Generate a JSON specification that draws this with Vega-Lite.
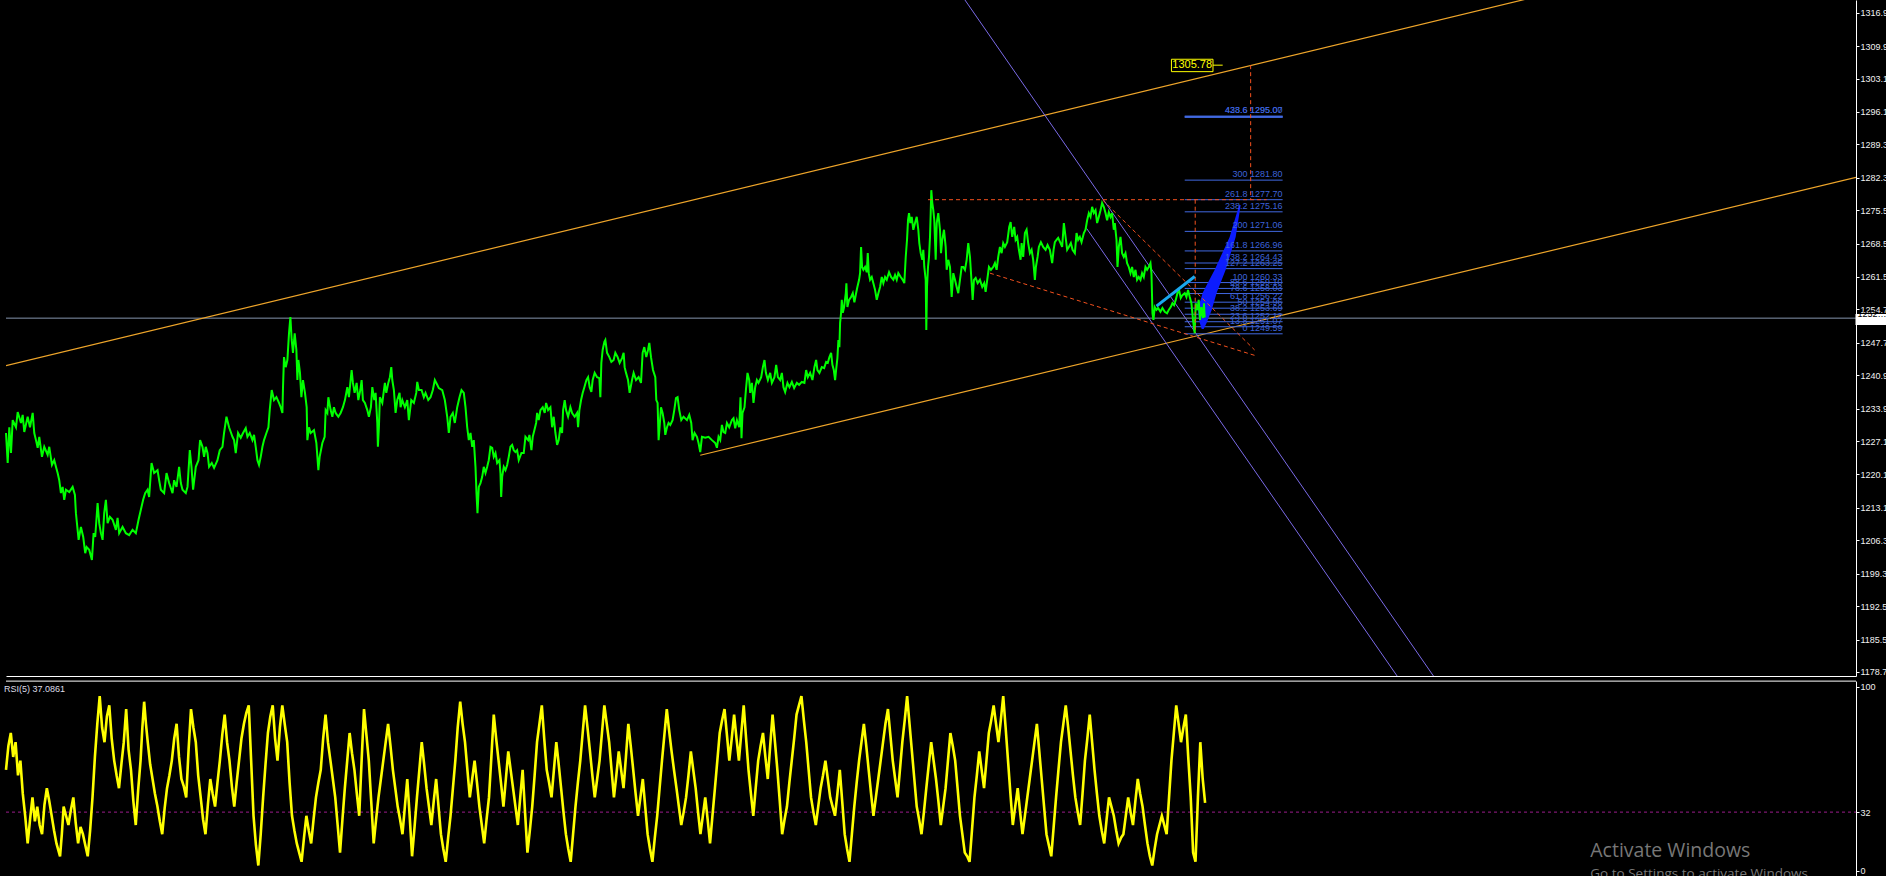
{
"$schema":"https://vega.github.io/schema/vega-lite/v6.json",
"background":"#000000",
"padding":0,
"spacing":2,
"config":{"view":{"stroke":null},"font":"Liberation Sans"},
"datasets":{
"px":[
{"t":0,"p":1228.8},{"t":1.7,"p":1222.5},{"t":3.3,"p":1230.0},{"t":5,"p":1224.6},{"t":6.7,"p":1231.5},{"t":10,"p":1230.0},{"t":11.7,"p":1233.2},{"t":15,"p":1230.9},{"t":16.7,"p":1232.6},{"t":18.3,"p":1229.0},{"t":21.7,"p":1232.2},{"t":24,"p":1230.0},{"t":26.7,"p":1233.0},{"t":28.3,"p":1228.8},{"t":30,"p":1227.3},{"t":31.7,"p":1225.7},{"t":33.3,"p":1228.0},{"t":36,"p":1223.8},{"t":38.3,"p":1225.9},{"t":41.7,"p":1224.2},{"t":43.3,"p":1225.9},{"t":46,"p":1222.1},{"t":48.3,"p":1223.1},{"t":50,"p":1221.7},{"t":51.7,"p":1220.4},{"t":53.3,"p":1218.9},{"t":55,"p":1216.2},{"t":56.7,"p":1217.5},{"t":58.3,"p":1214.8},{"t":60,"p":1216.9},{"t":63.3,"p":1216.4},{"t":66.7,"p":1217.5},{"t":69,"p":1215.8},{"t":70,"p":1212.0},{"t":71.7,"p":1208.5},{"t":72.7,"p":1206.4},{"t":75,"p":1209.1},{"t":77.3,"p":1207.0},{"t":79.3,"p":1203.6},{"t":80.7,"p":1204.9},{"t":83.3,"p":1204.3},{"t":86,"p":1202.2},{"t":87.7,"p":1207.8},{"t":89.3,"p":1207.0},{"t":91.7,"p":1214.1},{"t":93.3,"p":1209.9},{"t":95,"p":1207.8},{"t":96.7,"p":1206.4},{"t":98.3,"p":1212.0},{"t":100,"p":1214.8},{"t":101.7,"p":1209.9},{"t":104,"p":1211.2},{"t":106.7,"p":1210.6},{"t":110,"p":1208.5},{"t":111.7,"p":1211.0},{"t":113.3,"p":1207.8},{"t":116.7,"p":1209.1},{"t":120,"p":1207.8},{"t":123.3,"p":1207.4},{"t":126.7,"p":1208.5},{"t":130,"p":1207.8},{"t":132.7,"p":1210.6},{"t":135,"p":1212.7},{"t":137.3,"p":1214.8},{"t":139.3,"p":1216.2},{"t":141.7,"p":1216.9},{"t":143.3,"p":1215.4},{"t":145.7,"p":1222.5},{"t":148.3,"p":1220.4},{"t":151.7,"p":1221.0},{"t":153.3,"p":1218.9},{"t":155,"p":1216.9},{"t":158.3,"p":1216.2},{"t":160.7,"p":1220.4},{"t":163.3,"p":1218.3},{"t":166.7,"p":1216.2},{"t":168.3,"p":1218.9},{"t":170.7,"p":1217.5},{"t":173.3,"p":1221.7},{"t":175,"p":1218.3},{"t":176.7,"p":1216.9},{"t":180,"p":1216.2},{"t":181.7,"p":1217.5},{"t":184,"p":1225.2},{"t":185.7,"p":1221.7},{"t":187.3,"p":1216.9},{"t":190,"p":1221.7},{"t":192.7,"p":1223.1},{"t":194.3,"p":1227.3},{"t":196.7,"p":1225.9},{"t":198.3,"p":1223.8},{"t":200,"p":1225.9},{"t":201.7,"p":1224.6},{"t":203.3,"p":1221.7},{"t":206,"p":1222.5},{"t":208.3,"p":1221.5},{"t":211.7,"p":1223.1},{"t":214,"p":1225.2},{"t":216.7,"p":1225.9},{"t":218.3,"p":1228.8},{"t":220.7,"p":1232.2},{"t":223.3,"p":1230.0},{"t":225,"p":1229.0},{"t":226.7,"p":1228.0},{"t":228.3,"p":1227.3},{"t":230,"p":1224.6},{"t":232.3,"p":1228.8},{"t":235,"p":1227.8},{"t":237.3,"p":1228.8},{"t":240,"p":1229.8},
{"t":241.7,"p":1228.0},{"t":244,"p":1228.8},{"t":246.7,"p":1227.3},{"t":248.3,"p":1228.4},{"t":250,"p":1225.9},{"t":251.7,"p":1223.1},{"t":253.3,"p":1222.1},{"t":255,"p":1223.8},{"t":256.7,"p":1225.9},{"t":258.3,"p":1227.3},{"t":260.7,"p":1228.8},{"t":262.7,"p":1230.0},{"t":264,"p":1233.6},{"t":266,"p":1237.8},{"t":268.3,"p":1235.7},{"t":270.7,"p":1236.3},{"t":273.3,"p":1235.1},{"t":275,"p":1234.2},{"t":276.7,"p":1233.0},{"t":277.3,"p":1238.4},{"t":278.3,"p":1244.7},{"t":280,"p":1242.6},{"t":281.7,"p":1244.1},{"t":283.3,"p":1249.7},{"t":284.7,"p":1253.1},{"t":286,"p":1248.3},{"t":287.3,"p":1245.6},{"t":289,"p":1249.7},{"t":290.7,"p":1246.2},{"t":291.7,"p":1239.9},{"t":292.7,"p":1244.1},{"t":294.3,"p":1241.4},{"t":295.7,"p":1236.3},{"t":297.3,"p":1239.9},{"t":299.3,"p":1237.2},{"t":301,"p":1234.2},{"t":301.7,"p":1227.3},{"t":303.3,"p":1230.0},{"t":305,"p":1228.8},{"t":308.3,"p":1229.4},{"t":310.7,"p":1226.7},{"t":312.7,"p":1221.0},{"t":314,"p":1223.8},{"t":316.7,"p":1226.7},{"t":319,"p":1228.0},{"t":320,"p":1233.6},{"t":321.7,"p":1233.0},{"t":322.7,"p":1236.3},{"t":325,"p":1233.6},{"t":326.7,"p":1232.2},{"t":328.3,"p":1234.2},{"t":330,"p":1233.0},{"t":332.7,"p":1232.2},{"t":335,"p":1233.0},{"t":337.3,"p":1234.2},{"t":339.3,"p":1235.7},{"t":341.7,"p":1238.4},{"t":343.3,"p":1236.3},{"t":346,"p":1242.0},{"t":347.3,"p":1239.3},{"t":349,"p":1237.2},{"t":351,"p":1239.3},{"t":352.7,"p":1235.7},{"t":354.7,"p":1237.8},{"t":356,"p":1239.9},{"t":357.3,"p":1235.7},{"t":359.3,"p":1235.1},{"t":361.7,"p":1233.6},{"t":363.3,"p":1232.2},{"t":365.3,"p":1234.2},{"t":366.7,"p":1238.4},{"t":368.7,"p":1235.7},{"t":370,"p":1237.2},{"t":371.7,"p":1230.9},{"t":372.3,"p":1225.9},{"t":373.3,"p":1230.0},{"t":374.3,"p":1236.3},{"t":376.7,"p":1235.1},{"t":379.3,"p":1239.3},{"t":380.7,"p":1237.2},{"t":382.7,"p":1239.3},{"t":384.3,"p":1240.5},{"t":385.7,"p":1242.6},{"t":386.7,"p":1239.9},{"t":388.3,"p":1237.8},{"t":390,"p":1233.0},{"t":391.7,"p":1235.7},{"t":394,"p":1237.2},{"t":395,"p":1234.2},{"t":396.7,"p":1235.7},{"t":399.3,"p":1234.2},{"t":401.7,"p":1235.7},{"t":403.3,"p":1231.5},{"t":405.7,"p":1235.7},{"t":408.3,"p":1235.1},{"t":410.7,"p":1237.2},{"t":411.7,"p":1239.5},{"t":413.3,"p":1237.8},{"t":416,"p":1237.8},{"t":418.3,"p":1236.3},{"t":420,"p":1237.2},{"t":422.7,"p":1235.7},{"t":425,"p":1236.3},{"t":427.3,"p":1237.8},{"t":429.3,"p":1239.9},{"t":431.7,"p":1238.9},{"t":433.3,"p":1238.2},{"t":436.7,"p":1237.8},{"t":439.3,"p":1235.7},{"t":441.7,"p":1232.2},{"t":443.3,"p":1228.8},{"t":445,"p":1232.2},{"t":447.3,"p":1233.0},{"t":449.3,"p":1230.9},{"t":451.7,"p":1234.2},{"t":454,"p":1236.3},{"t":456,"p":1237.8},{"t":458.3,"p":1237.2},{"t":460,"p":1234.2},{"t":461.7,"p":1230.0},{"t":463.3,"p":1227.3},{"t":465,"p":1228.8},{"t":466.7,"p":1225.9},{"t":468.3,"p":1227.3},{"t":470,"p":1221.7},{"t":471,"p":1216.2},{"t":472,"p":1212.0},{"t":473.3,"p":1217.5},{"t":475,"p":1218.3},{"t":476.7,"p":1219.6},{"t":478.3,"p":1221.7},{"t":480,"p":1220.4},
{"t":481.7,"p":1221.7},{"t":483.3,"p":1223.1},{"t":485,"p":1225.9},{"t":486.7,"p":1225.7},{"t":488.3,"p":1223.8},{"t":490,"p":1224.6},{"t":491.7,"p":1222.5},{"t":494,"p":1223.1},{"t":495,"p":1220.4},{"t":495.7,"p":1215.4},{"t":496.7,"p":1219.6},{"t":498.3,"p":1221.7},{"t":500,"p":1221.0},{"t":501.7,"p":1222.1},{"t":503.3,"p":1223.8},{"t":505,"p":1225.9},{"t":506.7,"p":1226.3},{"t":508.3,"p":1225.2},{"t":510,"p":1224.8},{"t":511.7,"p":1225.2},{"t":513.3,"p":1223.1},{"t":516,"p":1224.6},{"t":518.3,"p":1224.6},{"t":520,"p":1228.0},{"t":522.7,"p":1227.3},{"t":524,"p":1228.4},{"t":526,"p":1225.2},{"t":527.3,"p":1228.0},{"t":529,"p":1229.4},{"t":530.7,"p":1230.9},{"t":531.7,"p":1233.0},{"t":533.3,"p":1231.5},{"t":535,"p":1233.6},{"t":537.3,"p":1234.2},{"t":539.3,"p":1233.0},{"t":540.7,"p":1235.1},{"t":542.7,"p":1233.6},{"t":545,"p":1234.2},{"t":546.7,"p":1230.0},{"t":548.3,"p":1232.2},{"t":550,"p":1228.8},{"t":551.7,"p":1226.3},{"t":553.3,"p":1227.3},{"t":555,"p":1230.0},{"t":556.7,"p":1228.8},{"t":557.7,"p":1233.6},{"t":559.3,"p":1235.7},{"t":560.7,"p":1233.6},{"t":562.7,"p":1232.2},{"t":565,"p":1234.2},{"t":566.7,"p":1233.0},{"t":569.3,"p":1232.2},{"t":571.7,"p":1233.0},{"t":572.7,"p":1230.0},{"t":574,"p":1233.6},{"t":575.7,"p":1235.7},{"t":577.3,"p":1237.2},{"t":579,"p":1238.4},{"t":581,"p":1239.9},{"t":582.7,"p":1240.5},{"t":584.3,"p":1238.4},{"t":586,"p":1237.4},{"t":587.3,"p":1239.9},{"t":589.3,"p":1241.4},{"t":591.7,"p":1240.5},{"t":594,"p":1240.3},{"t":595,"p":1236.3},{"t":596,"p":1243.5},{"t":597.3,"p":1246.2},{"t":599,"p":1247.9},{"t":600,"p":1248.3},{"t":601.7,"p":1245.6},{"t":604,"p":1244.7},{"t":606,"p":1243.7},{"t":608.3,"p":1244.1},{"t":610,"p":1245.6},{"t":612.3,"p":1244.7},{"t":614.3,"p":1243.5},{"t":616.7,"p":1244.5},{"t":618.3,"p":1245.6},{"t":619.3,"p":1242.6},{"t":620.7,"p":1241.4},{"t":622.7,"p":1239.9},{"t":624.3,"p":1237.2},{"t":626.7,"p":1239.9},{"t":628.3,"p":1241.4},{"t":630.7,"p":1239.9},{"t":633.3,"p":1240.5},{"t":635.7,"p":1239.3},{"t":637.3,"p":1245.6},{"t":639,"p":1246.8},{"t":641,"p":1244.7},{"t":642.7,"p":1246.2},{"t":644,"p":1247.7},{"t":645.7,"p":1244.7},{"t":647.7,"p":1242.0},{"t":650,"p":1240.5},{"t":651,"p":1235.7},{"t":652.3,"p":1235.1},{"t":653.3,"p":1227.3},{"t":654.3,"p":1230.0},{"t":655.7,"p":1234.2},{"t":657.3,"p":1233.0},{"t":659,"p":1230.9},{"t":660,"p":1228.4},{"t":661.7,"p":1230.0},{"t":663.3,"p":1230.9},{"t":665,"p":1230.5},{"t":667.3,"p":1231.5},{"t":669,"p":1233.6},{"t":670.7,"p":1236.1},{"t":672.3,"p":1236.3},{"t":674,"p":1233.6},{"t":676,"p":1231.5},{"t":678.3,"p":1232.2},{"t":681.7,"p":1231.5},{"t":684,"p":1232.6},{"t":686,"p":1230.9},{"t":687.3,"p":1227.3},{"t":689.3,"p":1228.8},{"t":691.7,"p":1228.0},{"t":693.3,"p":1226.7},{"t":695,"p":1224.8},{"t":696.7,"p":1228.0},{"t":700,"p":1227.8},{"t":703.3,"p":1228.0},{"t":706.7,"p":1227.3},{"t":710,"p":1226.7},{"t":711.7,"p":1225.7},{"t":713.3,"p":1228.0},{"t":715,"p":1227.3},{"t":716.7,"p":1230.5},{"t":718.3,"p":1229.0},{"t":720,"p":1228.8},
{"t":721.7,"p":1230.9},{"t":724,"p":1230.0},{"t":726.7,"p":1231.5},{"t":728.3,"p":1231.9},{"t":730,"p":1229.8},{"t":731.7,"p":1231.5},{"t":734,"p":1230.0},{"t":735.3,"p":1236.3},{"t":736.3,"p":1227.7},{"t":737.3,"p":1233.0},{"t":739.3,"p":1234.2},{"t":740.7,"p":1237.8},{"t":742.3,"p":1241.4},{"t":744,"p":1239.9},{"t":745,"p":1237.2},{"t":746.7,"p":1239.3},{"t":748.3,"p":1235.1},{"t":750,"p":1238.4},{"t":751.7,"p":1239.9},{"t":753.3,"p":1239.3},{"t":756,"p":1240.5},{"t":757.7,"p":1242.6},{"t":759.3,"p":1244.1},{"t":760.7,"p":1241.4},{"t":762.7,"p":1239.9},{"t":765,"p":1241.4},{"t":766.7,"p":1239.3},{"t":769.3,"p":1240.5},{"t":771,"p":1243.1},{"t":772.7,"p":1240.5},{"t":775,"p":1239.9},{"t":776.7,"p":1241.4},{"t":778.3,"p":1238.4},{"t":780,"p":1237.4},{"t":782.3,"p":1239.3},{"t":784.3,"p":1238.4},{"t":786.7,"p":1239.5},{"t":789,"p":1238.2},{"t":791.7,"p":1239.3},{"t":794,"p":1238.9},{"t":796.7,"p":1239.5},{"t":799.3,"p":1239.3},{"t":801,"p":1242.0},{"t":802.7,"p":1240.5},{"t":805,"p":1241.4},{"t":807.3,"p":1239.9},{"t":809.3,"p":1242.6},{"t":811,"p":1244.1},{"t":812.3,"p":1242.0},{"t":814.3,"p":1241.4},{"t":816.7,"p":1242.6},{"t":819,"p":1242.4},{"t":821,"p":1243.7},{"t":822.7,"p":1243.5},{"t":824.3,"p":1244.7},{"t":826,"p":1245.6},{"t":827.3,"p":1243.1},{"t":828.7,"p":1242.0},{"t":830,"p":1239.9},{"t":831,"p":1242.0},{"t":832.3,"p":1244.5},{"t":833.3,"p":1248.3},{"t":834.3,"p":1246.8},{"t":835,"p":1251.9},{"t":836,"p":1254.0},{"t":836.7,"p":1256.7},{"t":837.7,"p":1254.0},{"t":839,"p":1255.2},{"t":840.7,"p":1258.1},{"t":841.3,"p":1260.2},{"t":842.3,"p":1255.2},{"t":844,"p":1256.7},{"t":846,"p":1257.3},{"t":847.7,"p":1258.1},{"t":849.3,"p":1256.2},{"t":851,"p":1258.1},{"t":852.3,"p":1259.4},{"t":854,"p":1260.9},{"t":855,"p":1262.3},{"t":856,"p":1267.8},{"t":857,"p":1263.6},{"t":858.3,"p":1263.0},{"t":860,"p":1263.6},{"t":861.7,"p":1262.5},{"t":862.7,"p":1266.5},{"t":863.7,"p":1262.3},{"t":865,"p":1260.9},{"t":866.7,"p":1261.5},{"t":868.3,"p":1260.2},{"t":870,"p":1258.8},{"t":871.7,"p":1256.7},{"t":873.3,"p":1258.1},{"t":875,"p":1259.4},{"t":876.7,"p":1261.5},{"t":878.3,"p":1260.2},{"t":880,"p":1261.5},{"t":881.7,"p":1260.9},{"t":884,"p":1262.5},{"t":886,"p":1261.5},{"t":888.3,"p":1260.9},{"t":890,"p":1261.9},{"t":891.7,"p":1260.9},{"t":893.3,"p":1262.3},{"t":895.7,"p":1261.5},{"t":897.7,"p":1260.9},{"t":899.3,"p":1260.2},{"t":900.7,"p":1265.7},{"t":902,"p":1269.3},{"t":903,"p":1273.4},{"t":904,"p":1274.9},{"t":905.3,"p":1272.8},{"t":906.7,"p":1274.1},{"t":908.3,"p":1271.4},{"t":910,"p":1272.8},{"t":911.7,"p":1274.1},{"t":913.3,"p":1271.4},{"t":914.3,"p":1268.6},{"t":915.7,"p":1266.5},{"t":917.3,"p":1265.1},{"t":918.3,"p":1267.2},{"t":919.3,"p":1263.6},{"t":920.7,"p":1260.9},{"t":921.3,"p":1250.4},{"t":922,"p":1259.4},{"t":923,"p":1263.6},{"t":924,"p":1265.7},{"t":925,"p":1269.9},{"t":925.7,"p":1274.9},{"t":926.3,"p":1279.7},{"t":927.3,"p":1277.0},{"t":928.3,"p":1275.5},{"t":929.3,"p":1273.4},{"t":930.7,"p":1265.1},{"t":931.7,"p":1272.8},{"t":933.3,"p":1274.9},{"t":935,"p":1271.4},{"t":936,"p":1266.5},{"t":937.3,"p":1269.3},{"t":939,"p":1271.4},{"t":940.7,"p":1267.8},{"t":941.7,"p":1263.0},{"t":943.3,"p":1265.1},{"t":945,"p":1263.6},{"t":946.7,"p":1257.3},{"t":948.3,"p":1262.3},{"t":950,"p":1260.9},{"t":951.7,"p":1259.4},{"t":953.3,"p":1258.1},{"t":955,"p":1260.9},{"t":956.7,"p":1263.6},{"t":958.3,"p":1263.6},{"t":960,"p":1263.0},
{"t":961.7,"p":1265.1},{"t":963.3,"p":1268.6},{"t":965,"p":1265.7},{"t":966.7,"p":1260.2},{"t":967.7,"p":1256.7},{"t":969,"p":1260.9},{"t":970.7,"p":1261.3},{"t":972.7,"p":1260.2},{"t":975,"p":1260.9},{"t":977.3,"p":1259.4},{"t":979.3,"p":1260.2},{"t":980.7,"p":1258.4},{"t":982.3,"p":1260.9},{"t":984,"p":1263.6},{"t":986,"p":1263.0},{"t":988.3,"p":1263.6},{"t":990,"p":1264.4},{"t":991.7,"p":1263.0},{"t":993.3,"p":1265.7},{"t":995,"p":1267.8},{"t":996.7,"p":1266.5},{"t":998.3,"p":1268.6},{"t":1000,"p":1267.8},{"t":1002.3,"p":1268.8},{"t":1004.3,"p":1272.0},{"t":1005.7,"p":1273.0},{"t":1007.3,"p":1269.9},{"t":1009.3,"p":1272.0},{"t":1010.7,"p":1269.3},{"t":1012.3,"p":1269.9},{"t":1014,"p":1267.2},{"t":1015.7,"p":1265.1},{"t":1016.7,"p":1268.6},{"t":1018.3,"p":1265.7},{"t":1020,"p":1270.7},{"t":1021.7,"p":1271.4},{"t":1023.3,"p":1268.6},{"t":1025,"p":1266.5},{"t":1026.7,"p":1267.2},{"t":1028.3,"p":1265.1},{"t":1030,"p":1260.9},{"t":1031,"p":1263.6},{"t":1032.7,"p":1265.7},{"t":1034,"p":1267.8},{"t":1036,"p":1268.8},{"t":1038.3,"p":1267.8},{"t":1040.7,"p":1267.2},{"t":1042.7,"p":1268.2},{"t":1045,"p":1267.2},{"t":1047.3,"p":1264.4},{"t":1048.7,"p":1267.2},{"t":1050,"p":1268.8},{"t":1051.7,"p":1269.3},{"t":1053.3,"p":1269.7},{"t":1055.7,"p":1268.6},{"t":1057.3,"p":1267.8},{"t":1059,"p":1272.8},{"t":1060.7,"p":1269.9},{"t":1062.3,"p":1267.2},{"t":1064,"p":1267.8},{"t":1066,"p":1268.6},{"t":1067.7,"p":1267.2},{"t":1070,"p":1266.5},{"t":1071.7,"p":1270.7},{"t":1073.3,"p":1269.3},{"t":1075,"p":1269.9},{"t":1076.7,"p":1268.8},{"t":1079,"p":1270.7},{"t":1080.7,"p":1271.4},{"t":1082.3,"p":1273.4},{"t":1084,"p":1274.9},{"t":1085.7,"p":1274.1},{"t":1087.3,"p":1276.2},{"t":1089,"p":1274.9},{"t":1090.7,"p":1275.5},{"t":1092.3,"p":1272.8},{"t":1094,"p":1274.1},{"t":1095.7,"p":1275.5},{"t":1097.3,"p":1277.0},{"t":1099,"p":1276.2},{"t":1100.7,"p":1274.9},{"t":1102.3,"p":1273.4},{"t":1104,"p":1275.1},{"t":1105.7,"p":1274.1},{"t":1107.3,"p":1274.9},{"t":1109,"p":1271.4},{"t":1110,"p":1272.8},{"t":1111.7,"p":1269.3},{"t":1112.7,"p":1263.6},{"t":1114,"p":1267.8},{"t":1115.7,"p":1269.9},{"t":1117.3,"p":1266.5},{"t":1119,"p":1265.7},{"t":1120.7,"p":1266.5},{"t":1122.3,"p":1264.4},{"t":1124,"p":1263.6},{"t":1125.7,"p":1262.3},{"t":1127.3,"p":1263.6},{"t":1129,"p":1261.5},{"t":1130.7,"p":1263.0},{"t":1132.3,"p":1260.9},{"t":1134,"p":1261.5},{"t":1135.7,"p":1260.9},{"t":1137.3,"p":1262.3},{"t":1139,"p":1261.5},{"t":1140.7,"p":1263.6},{"t":1142.3,"p":1263.0},{"t":1144,"p":1263.6},{"t":1145.7,"p":1264.4},{"t":1146.7,"p":1262.3},{"t":1147.7,"p":1253.9},{"t":1148.7,"p":1252.5},{"t":1150,"p":1255.2},{"t":1151.7,"p":1254.6},{"t":1153.3,"p":1255.0},{"t":1155.7,"p":1254.2},{"t":1157.7,"p":1255.0},{"t":1160,"p":1254.2},{"t":1162.3,"p":1253.9},{"t":1164,"p":1254.6},{"t":1166,"p":1255.2},{"t":1167.7,"p":1256.0},{"t":1169.3,"p":1255.6},{"t":1171,"p":1256.7},{"t":1172.7,"p":1258.1},{"t":1174.3,"p":1258.8},{"t":1176,"p":1257.1},{"t":1177.7,"p":1257.7},{"t":1180,"p":1258.1},{"t":1181.7,"p":1257.3},{"t":1183.3,"p":1258.8},{"t":1185,"p":1257.3},{"t":1186.7,"p":1256.0},{"t":1188.3,"p":1252.5},{"t":1190,"p":1249.7},{"t":1191,"p":1256.0},{"t":1192.7,"p":1254.6},{"t":1194,"p":1256.7},{"t":1195.3,"p":1252.5},{"t":1196.7,"p":1255.2},{"t":1198.3,"p":1252.9},{"t":1199.3,"p":1256.0},{"t":1200,"p":1253.0}
],
"rsi":[
{"t":0,"r":55},{"t":2.4,"r":68},{"t":4.8,"r":75},{"t":7.2,"r":62},{"t":9.6,"r":70},{"t":12.0,"r":52},{"t":14.4,"r":60},{"t":16.8,"r":42},{"t":19.2,"r":30},{"t":21.7,"r":15},{"t":24.1,"r":28},{"t":26.5,"r":40},{"t":28.9,"r":27},{"t":31.3,"r":35},{"t":33.7,"r":25},{"t":36.1,"r":20},{"t":38.5,"r":36},{"t":40.9,"r":45},{"t":43.3,"r":38},{"t":45.7,"r":30},{"t":48.1,"r":22},{"t":50.5,"r":15},{"t":54.1,"r":8},{"t":55.9,"r":20},{"t":57.7,"r":35},{"t":60.1,"r":30},{"t":62.5,"r":25},{"t":64.9,"r":33},{"t":67.4,"r":40},{"t":69.8,"r":26},{"t":72.2,"r":15},{"t":74.6,"r":24},{"t":77.0,"r":20},{"t":79.4,"r":14},{"t":81.8,"r":8},{"t":84.2,"r":22},{"t":86.6,"r":40},{"t":89.0,"r":62},{"t":91.4,"r":80},{"t":93.8,"r":95},{"t":96.2,"r":78},{"t":98.6,"r":70},{"t":101.0,"r":84},{"t":103.4,"r":90},{"t":105.8,"r":72},{"t":108.3,"r":60},{"t":110.7,"r":52},{"t":113.1,"r":45},{"t":115.5,"r":58},{"t":117.9,"r":70},{"t":120.3,"r":88},{"t":122.7,"r":66},{"t":125.1,"r":55},{"t":127.5,"r":38},{"t":129.9,"r":25},{"t":132.3,"r":44},{"t":134.7,"r":60},{"t":136.5,"r":78},{"t":138.3,"r":92},{"t":140.1,"r":80},{"t":141.9,"r":70},{"t":144.3,"r":58},{"t":146.7,"r":50},{"t":149.1,"r":42},{"t":151.6,"r":35},{"t":154.0,"r":27},{"t":156.4,"r":20},{"t":158.8,"r":34},{"t":161.2,"r":45},{"t":163.6,"r":52},{"t":166.0,"r":60},{"t":168.4,"r":72},{"t":170.8,"r":80},{"t":173.2,"r":62},{"t":175.6,"r":50},{"t":178.0,"r":46},{"t":180.4,"r":40},{"t":182.8,"r":66},{"t":185.2,"r":88},{"t":187.6,"r":78},{"t":190.0,"r":70},{"t":192.4,"r":52},{"t":194.9,"r":40},{"t":197.3,"r":28},{"t":199.7,"r":20},{"t":202.1,"r":36},{"t":204.5,"r":50},{"t":206.9,"r":42},{"t":209.3,"r":35},{"t":211.7,"r":48},{"t":214.1,"r":60},{"t":216.5,"r":74},{"t":218.9,"r":85},{"t":221.3,"r":70},{"t":223.7,"r":60},{"t":226.1,"r":46},{"t":228.5,"r":35},{"t":230.9,"r":48},{"t":233.3,"r":60},{"t":235.7,"r":72},{"t":238.2,"r":80},{"t":240.6,"r":86},{"t":243.0,"r":90},{"t":245.4,"r":60},{"t":247.8,"r":30},{"t":250.2,"r":14},{"t":252.6,"r":3},{"t":255.0,"r":20},{"t":257.4,"r":40},{"t":259.8,"r":58},{"t":262.2,"r":75},{"t":264.6,"r":84},{"t":267.0,"r":90},{"t":269.4,"r":72},{"t":271.8,"r":60},{"t":274.2,"r":78},{"t":276.6,"r":90},{"t":279.0,"r":80},{"t":281.5,"r":70},{"t":283.9,"r":48},{"t":286.3,"r":30},{"t":288.7,"r":22},{"t":291.1,"r":15},{"t":293.5,"r":10},{"t":295.9,"r":5},{"t":298.3,"r":18},{"t":300.7,"r":30},{"t":303.1,"r":22},{"t":305.5,"r":15},{"t":307.9,"r":28},{"t":310.3,"r":40},{"t":312.7,"r":48},{"t":315.1,"r":55},{"t":317.5,"r":72},{"t":319.9,"r":85},{"t":322.3,"r":70},{"t":324.8,"r":60},{"t":327.2,"r":50},{"t":329.6,"r":40},{"t":332.0,"r":25},{"t":334.4,"r":10},{"t":336.8,"r":28},{"t":339.2,"r":45},{"t":341.6,"r":60},{"t":344.0,"r":75},{"t":346.4,"r":64},{"t":348.8,"r":55},{"t":351.2,"r":42},{"t":353.6,"r":30},{"t":356.0,"r":60},{"t":358.4,"r":88},{"t":360.8,"r":74},{"t":363.2,"r":60},{"t":365.6,"r":38},{"t":368.1,"r":15},{"t":370.5,"r":28},{"t":372.9,"r":40},{"t":375.3,"r":50},{"t":377.7,"r":60},{"t":380.1,"r":70},{"t":382.5,"r":80},{"t":384.9,"r":68},{"t":387.3,"r":55},{"t":389.7,"r":45},{"t":392.1,"r":35},{"t":394.5,"r":28},{"t":396.9,"r":20},{"t":399.3,"r":35},{"t":401.7,"r":50},{"t":404.1,"r":30},{"t":406.5,"r":8},{"t":409.0,"r":24},{"t":411.4,"r":40},{"t":413.8,"r":55},{"t":416.2,"r":70},{"t":418.6,"r":58},{"t":421.0,"r":45},{"t":423.4,"r":35},{"t":425.8,"r":25},{"t":428.2,"r":38},{"t":430.6,"r":50},{"t":433.0,"r":35},{"t":435.4,"r":20},{"t":437.8,"r":12},{"t":440.2,"r":5},{"t":442.6,"r":18},{"t":445.0,"r":30},{"t":447.4,"r":45},{"t":449.8,"r":60},{"t":452.2,"r":78},{"t":454.7,"r":92},{"t":457.1,"r":80},{"t":459.5,"r":70},{"t":461.9,"r":55},{"t":464.3,"r":40},{"t":466.7,"r":50},{"t":469.1,"r":60},{"t":471.5,"r":48},{"t":473.9,"r":35},{"t":476.3,"r":25},{"t":478.7,"r":15},{"t":481.1,"r":28},{"t":483.5,"r":40},{"t":485.9,"r":62},{"t":488.3,"r":85},{"t":490.7,"r":72},{"t":493.1,"r":60},{"t":495.5,"r":48},{"t":498.0,"r":35},{"t":500.4,"r":50},{"t":502.8,"r":65},{"t":505.2,"r":55},{"t":507.6,"r":45},{"t":510.0,"r":35},{"t":512.4,"r":25},{"t":514.8,"r":40},{"t":517.2,"r":55},{"t":519.6,"r":32},{"t":522.0,"r":10},{"t":524.4,"r":22},{"t":526.8,"r":35},{"t":529.2,"r":52},{"t":531.6,"r":70},{"t":534.0,"r":80},{"t":536.4,"r":90},{"t":538.8,"r":72},{"t":541.3,"r":55},{"t":543.7,"r":48},{"t":546.1,"r":40},{"t":548.5,"r":55},{"t":550.9,"r":70},{"t":553.3,"r":58},{"t":555.7,"r":45},{"t":558.1,"r":32},{"t":560.5,"r":20},{"t":562.9,"r":12},{"t":565.3,"r":5},{"t":567.7,"r":20},{"t":570.1,"r":35},{"t":572.5,"r":48},{"t":574.9,"r":60},{"t":577.3,"r":75},{"t":579.7,"r":90},{"t":582.1,"r":78},{"t":584.6,"r":65},{"t":587.0,"r":52},{"t":589.4,"r":40},{"t":591.8,"r":50},{"t":594.2,"r":60},{"t":596.6,"r":75},{"t":599.0,"r":90},{"t":601.4,"r":80},{"t":603.8,"r":70},{"t":606.2,"r":55},{"t":608.6,"r":40},{"t":611.0,"r":52},{"t":613.4,"r":65},{"t":615.8,"r":55},{"t":618.2,"r":45},{"t":620.6,"r":62},{"t":623.0,"r":80},{"t":625.4,"r":68},{"t":627.9,"r":55},{"t":630.3,"r":42},{"t":632.7,"r":30},{"t":635.1,"r":40},{"t":637.5,"r":50},{"t":639.9,"r":35},{"t":642.3,"r":20},{"t":644.7,"r":12},{"t":647.1,"r":5},{"t":649.5,"r":18},{"t":651.9,"r":30},{"t":654.3,"r":45},{"t":656.7,"r":60},{"t":659.1,"r":74},{"t":661.5,"r":88},{"t":663.9,"r":76},{"t":666.3,"r":65},{"t":668.7,"r":55},{"t":671.2,"r":45},{"t":673.6,"r":35},{"t":676.0,"r":25},{"t":678.4,"r":32},{"t":680.8,"r":40},{"t":683.2,"r":52},{"t":685.6,"r":65},{"t":688.0,"r":55},{"t":690.4,"r":45},{"t":692.8,"r":32},{"t":695.2,"r":20},{"t":697.6,"r":30},{"t":700.0,"r":40},{"t":702.4,"r":28},{"t":704.8,"r":15},{"t":707.2,"r":30},{"t":709.7,"r":45},{"t":712.1,"r":60},{"t":714.5,"r":75},{"t":716.9,"r":82},{"t":719.3,"r":88},{"t":721.7,"r":74},{"t":724.1,"r":60},{"t":726.5,"r":72},{"t":728.9,"r":85},{"t":731.3,"r":72},{"t":733.7,"r":60},{"t":736.1,"r":75},{"t":738.5,"r":90},{"t":740.9,"r":72},{"t":743.3,"r":55},{"t":745.7,"r":42},{"t":748.1,"r":30},{"t":750.5,"r":45},{"t":753.0,"r":60},{"t":755.4,"r":68},{"t":757.8,"r":75},{"t":760.2,"r":62},{"t":762.6,"r":50},{"t":765.0,"r":68},{"t":767.4,"r":85},{"t":769.8,"r":70},{"t":772.2,"r":55},{"t":774.6,"r":38},{"t":777.0,"r":20},{"t":779.4,"r":28},{"t":781.8,"r":35},{"t":784.2,"r":48},{"t":786.6,"r":60},{"t":789.0,"r":72},{"t":791.4,"r":85},{"t":793.8,"r":90},{"t":796.3,"r":95},{"t":798.7,"r":82},{"t":801.1,"r":70},{"t":803.5,"r":55},{"t":805.9,"r":40},{"t":808.3,"r":32},{"t":810.7,"r":25},{"t":813.1,"r":35},{"t":815.5,"r":45},{"t":817.9,"r":52},{"t":820.3,"r":60},{"t":822.7,"r":50},{"t":825.1,"r":40},{"t":827.5,"r":35},{"t":829.9,"r":30},{"t":832.3,"r":42},{"t":834.7,"r":55},{"t":837.1,"r":38},{"t":839.6,"r":20},{"t":842.0,"r":12},{"t":844.4,"r":5},{"t":846.8,"r":20},{"t":849.2,"r":35},{"t":851.6,"r":48},{"t":854.0,"r":60},{"t":856.4,"r":70},{"t":858.8,"r":80},{"t":861.2,"r":68},{"t":863.6,"r":55},{"t":866.0,"r":42},{"t":868.4,"r":30},{"t":870.8,"r":40},{"t":873.2,"r":50},{"t":875.6,"r":60},{"t":878.0,"r":70},{"t":880.4,"r":80},{"t":882.9,"r":88},{"t":885.3,"r":74},{"t":887.7,"r":60},{"t":890.1,"r":50},{"t":892.5,"r":40},{"t":894.9,"r":55},{"t":897.3,"r":70},{"t":899.7,"r":82},{"t":902.1,"r":95},{"t":904.5,"r":80},{"t":906.9,"r":65},{"t":909.3,"r":50},{"t":911.7,"r":35},{"t":914.1,"r":28},{"t":916.5,"r":20},{"t":918.9,"r":32},{"t":921.3,"r":45},{"t":923.8,"r":58},{"t":926.2,"r":70},{"t":928.6,"r":60},{"t":931.0,"r":50},{"t":933.4,"r":38},{"t":935.8,"r":25},{"t":938.2,"r":35},{"t":940.6,"r":45},{"t":943.0,"r":60},{"t":945.4,"r":75},{"t":947.8,"r":68},{"t":950.2,"r":60},{"t":952.6,"r":45},{"t":955.0,"r":30},{"t":957.4,"r":20},{"t":959.8,"r":10},{"t":962.2,"r":8},{"t":964.6,"r":5},{"t":967.0,"r":22},{"t":969.5,"r":40},{"t":971.9,"r":52},{"t":974.3,"r":65},{"t":976.7,"r":55},{"t":979.1,"r":45},{"t":981.5,"r":60},{"t":983.9,"r":75},{"t":986.3,"r":82},{"t":988.7,"r":90},{"t":991.1,"r":80},{"t":993.5,"r":70},{"t":995.9,"r":82},{"t":998.3,"r":95},{"t":1000.7,"r":78},{"t":1003.1,"r":60},{"t":1005.5,"r":42},{"t":1007.9,"r":25},{"t":1010.3,"r":35},{"t":1012.8,"r":45},{"t":1015.2,"r":32},{"t":1017.6,"r":20},{"t":1020.0,"r":30},{"t":1022.4,"r":40},{"t":1024.8,"r":50},{"t":1027.2,"r":60},{"t":1029.6,"r":70},{"t":1032.0,"r":80},{"t":1034.4,"r":65},{"t":1036.8,"r":50},{"t":1039.2,"r":35},{"t":1041.6,"r":20},{"t":1044.0,"r":14},{"t":1046.4,"r":8},{"t":1048.8,"r":24},{"t":1051.2,"r":40},{"t":1053.6,"r":55},{"t":1056.1,"r":70},{"t":1058.5,"r":80},{"t":1060.9,"r":90},{"t":1063.3,"r":78},{"t":1065.7,"r":65},{"t":1068.1,"r":52},{"t":1070.5,"r":40},{"t":1072.9,"r":32},{"t":1075.3,"r":25},{"t":1077.7,"r":42},{"t":1080.1,"r":60},{"t":1082.5,"r":72},{"t":1084.9,"r":85},{"t":1087.3,"r":70},{"t":1089.7,"r":55},{"t":1092.1,"r":42},{"t":1094.5,"r":30},{"t":1096.9,"r":22},{"t":1099.4,"r":15},{"t":1101.8,"r":28},{"t":1104.2,"r":40},{"t":1106.6,"r":35},{"t":1109.0,"r":30},{"t":1111.4,"r":22},{"t":1113.8,"r":15},{"t":1116.2,"r":18},{"t":1118.6,"r":20},{"t":1121.0,"r":30},{"t":1123.4,"r":40},{"t":1125.8,"r":32},{"t":1128.2,"r":25},{"t":1130.6,"r":38},{"t":1133.0,"r":50},{"t":1135.4,"r":42},{"t":1137.8,"r":35},{"t":1140.2,"r":25},{"t":1142.7,"r":15},{"t":1145.1,"r":8},{"t":1147.5,"r":3},{"t":1149.9,"r":12},{"t":1152.3,"r":20},{"t":1154.7,"r":25},{"t":1157.1,"r":30},{"t":1159.5,"r":25},{"t":1161.9,"r":20},{"t":1164.3,"r":40},{"t":1166.7,"r":60},{"t":1169.1,"r":75},{"t":1171.5,"r":90},{"t":1173.9,"r":80},{"t":1176.3,"r":70},{"t":1178.7,"r":78},{"t":1181.1,"r":85},{"t":1183.5,"r":62},{"t":1186.0,"r":40},{"t":1188.4,"r":10},{"t":1190.8,"r":5},{"t":1193.2,"r":40},{"t":1195.6,"r":70},{"t":1198.0,"r":50},{"t":1200.4,"r":37}
],
"fib":[
{"p":1281.80,"t":1180,"t2":1278,"l":"300 1281.80"},
{"p":1277.70,"t":1180,"t2":1278,"l":"261.8 1277.70"},
{"p":1275.16,"t":1180,"t2":1278,"l":"238.2 1275.16"},
{"p":1271.06,"t":1180,"t2":1278,"l":"200 1271.06"},
{"p":1266.96,"t":1180,"t2":1278,"l":"161.8 1266.96"},
{"p":1264.43,"t":1180,"t2":1278,"l":"138.2 1264.43"},
{"p":1263.25,"t":1180,"t2":1278,"l":"127.2 1263.25"},
{"p":1260.33,"t":1180,"t2":1278,"l":"100 1260.33"},
{"p":1259.10,"t":1180,"t2":1278,"l":"88.6 1259.10"},
{"p":1258.03,"t":1180,"t2":1278,"l":"78.6 1258.03"},
{"p":1256.22,"t":1180,"t2":1278,"l":"61.8 1256.22"},
{"p":1254.96,"t":1180,"t2":1278,"l":"50 1254.96"},
{"p":1253.69,"t":1180,"t2":1278,"l":"38.2 1253.69"},
{"p":1252.12,"t":1180,"t2":1278,"l":"23.6 1252.12"},
{"p":1251.07,"t":1180,"t2":1278,"l":"13.8 1251.07"},
{"p":1249.59,"t":1180,"t2":1278,"l":"0 1249.59"}
],
"fibtop":[
{"p":1295.07,"t":1180,"t2":1278,"l":"423.6 1295.07"},
{"p":1295.07,"t":1180,"t2":1278,"l":"438.6 1295.00"}
],
"chanUp":[{"t":0,"p":1242.93},{"t":1852,"p":1336.42}],
"chanLo":[{"t":695,"p":1224.13},{"t":1852,"p":1282.4}],
"purA":[{"t":960,"p":1319.56},{"t":1429,"p":1177.86}],
"purB":[{"t":1081.7,"p":1271.7},{"t":1392.6,"p":1177.86}],
"last":[{"t":0,"p":1252.87},{"t":1852,"p":1252.87}],
"red":[
{"id":"h","t":923,"p":1277.7},{"id":"h","t":1262,"p":1277.7},
{"id":"v1","t":1246,"p":1305.9},{"id":"v1","t":1246.01,"p":1277.7},
{"id":"v2","t":1190.5,"p":1277.7},{"id":"v2","t":1190.51,"p":1249.7},
{"id":"d1","t":1098,"p":1277.6},{"id":"d1","t":1250,"p":1246.2},
{"id":"d2","t":985,"p":1262.3},{"id":"d2","t":1251,"p":1245.0}
],
"cyan":[{"t":1151.7,"p":1255.4},{"t":1190,"p":1261.6}],
"fan":[
{"p":1250.6,"a":1197,"b":1199},
{"p":1251.9,"a":1195,"b":1202},
{"p":1254.6,"a":1193,"b":1207},
{"p":1258.2,"a":1198,"b":1212},
{"p":1263.0,"a":1210,"b":1221},
{"p":1269.9,"a":1225,"b":1231},
{"p":1276.6,"a":1234.5,"b":1236}
],
"ybox":[{"t":1166.7,"t2":1208.3,"p":1307.14,"p2":1304.54,"s":"1305.78","c":1187.5,"m":1305.84}],
"ytick":[{"t":1208.3,"p":1305.9},{"t":1218,"p":1305.9}],
"pbox":[{"t":1851.5,"t2":1887,"p":1253.74,"p2":1251.43,"s":"1252.87"}],
"rsiLab":[{"t":0,"r":98.7,"s":"RSI(5) 37.0861"}],
"lvl32":[{"t":0,"r":32},{"t":1852,"r":32}],
"rtop":[{"t":0,"r":103.2},{"t":1852,"r":103.2}],
"wm1":[{"t":1586,"r":10.9,"s":"Activate Windows"}],
"wm2":[{"t":1586,"r":-1.8,"s":"Go to Settings to activate Windows."}]
},
"vconcat":[
{
"width":1850,"height":676,
"encoding":{
"x":{"field":"t","type":"quantitative","scale":{"domain":[0,1852],"nice":false,"zero":false},
"axis":{"orient":"bottom","domain":true,"domainColor":"#ffffff","ticks":false,"labels":false,"grid":false,"title":null}},
"y":{"field":"p","type":"quantitative","scale":{"domain":[1177.86,1319.56],"nice":false,"zero":false},
"axis":{"orient":"right","values":[1316.9,1309.9,1303.1,1296.1,1289.3,1282.3,1275.5,1268.5,1261.5,1254.7,1247.7,1240.9,1233.9,1227.1,1220.1,1213.1,1206.3,1199.3,1192.5,1185.5,1178.7],"format":".1f","labelColor":"#f0f0f0","labelFont":"Liberation Sans","labelFontSize":9,"tickColor":"#ffffff","tickSize":3,"labelPadding":1,"domainColor":"#ffffff","grid":false,"title":null,"labelOverlap":false,"labelFlush":false}}
},
"layer":[
{"data":{"name":"last"},"mark":{"type":"line","color":"#8494ad","strokeWidth":1}},
{"data":{"name":"chanUp"},"mark":{"type":"line","color":"#eea52a","strokeWidth":1.2,"clip":true}},
{"data":{"name":"chanLo"},"mark":{"type":"line","color":"#eea52a","strokeWidth":1.2,"clip":true}},
{"data":{"name":"purA"},"mark":{"type":"line","color":"#7a6ae6","strokeWidth":1,"clip":true}},
{"data":{"name":"purB"},"mark":{"type":"line","color":"#7a6ae6","strokeWidth":1,"clip":true}},
{"data":{"name":"fib"},"mark":{"type":"rule","color":"#4068e0","strokeWidth":1},"encoding":{"x2":{"field":"t2"}}},
{"data":{"name":"fibtop"},"mark":{"type":"rule","color":"#4068e0","strokeWidth":2},"encoding":{"x2":{"field":"t2"}}},
{"data":{"name":"fan"},"mark":{"type":"area","orient":"horizontal","color":"#0c1cff","opacity":1},"encoding":{"x":{"field":"a","type":"quantitative"},"x2":{"field":"b"}}},
{"data":{"name":"px"},"mark":{"type":"line","color":"#00ff00","strokeWidth":2}},
{"data":{"name":"red"},"mark":{"type":"line","color":"#f4511e","strokeWidth":1,"strokeDash":[4,3],"clip":true},"encoding":{"detail":{"field":"id"}}},
{"data":{"name":"cyan"},"mark":{"type":"line","color":"#1aa8ee","strokeWidth":3}},
{"data":{"name":"fib"},"mark":{"type":"text","color":"#3d62d8","font":"Liberation Sans","fontSize":9,"align":"right","baseline":"bottom","dy":-1},"encoding":{"x":{"field":"t2","type":"quantitative"},"text":{"field":"l"}}},
{"data":{"name":"fibtop"},"mark":{"type":"text","color":"#3d62d8","font":"Liberation Sans","fontSize":9,"align":"right","baseline":"bottom","dy":-2},"encoding":{"x":{"field":"t2","type":"quantitative"},"text":{"field":"l"}}},
{"data":{"name":"ytick"},"mark":{"type":"line","color":"#ffff00","strokeWidth":1}},
{"data":{"name":"ybox"},"mark":{"type":"rect","fill":"#000000","stroke":"#ffff00","strokeWidth":1},"encoding":{"x2":{"field":"t2"},"y2":{"field":"p2"}}},
{"data":{"name":"ybox"},"mark":{"type":"text","color":"#ffff00","font":"Liberation Sans","fontSize":11,"align":"center","baseline":"middle"},"encoding":{"x":{"field":"c","type":"quantitative"},"y":{"field":"m","type":"quantitative"},"text":{"field":"s"}}},
{"data":{"name":"pbox"},"mark":{"type":"rect","fill":"#ffffff"},"encoding":{"x2":{"field":"t2"},"y2":{"field":"p2"}}},
{"data":{"name":"pbox"},"mark":{"type":"text","color":"#000000","font":"Liberation Sans","fontSize":9,"align":"left","baseline":"middle","dx":2,"limit":31,"ellipsis":""},"encoding":{"y":{"field":"p","type":"quantitative"},"text":{"field":"s"}}}
]
},
{
"width":1850,"height":195,
"encoding":{
"x":{"field":"t","type":"quantitative","scale":{"domain":[0,1852],"nice":false,"zero":false},
"axis":{"orient":"bottom","domain":true,"domainColor":"#ffffff","ticks":false,"labels":false,"grid":false,"title":null}},
"y":{"field":"r","type":"quantitative","scale":{"domain":[-2.72,103.26],"nice":false,"zero":false},
"axis":{"orient":"right","values":[0,32,100],"labelColor":"#f0f0f0","labelFont":"Liberation Sans","labelFontSize":9,"tickColor":"#ffffff","tickSize":3,"labelPadding":1,"domainColor":"#ffffff","grid":false,"title":null}}
},
"layer":[
{"data":{"name":"rtop"},"mark":{"type":"line","color":"#ffffff","strokeWidth":1}},
{"data":{"name":"lvl32"},"mark":{"type":"line","color":"#9a1c8c","strokeWidth":1,"strokeDash":[3,3]}},
{"data":{"name":"rsi"},"mark":{"type":"line","color":"#ffff00","strokeWidth":2.6}},
{"data":{"name":"rsiLab"},"mark":{"type":"text","color":"#dcdce6","font":"Liberation Sans","fontSize":9,"align":"left","baseline":"middle","dx":-2},"encoding":{"text":{"field":"s"}}},
{"data":{"name":"wm1"},"mark":{"type":"text","color":"#777777","font":"Open Sans","fontSize":19.5,"align":"left","baseline":"middle"},"encoding":{"text":{"field":"s"}}},
{"data":{"name":"wm2"},"mark":{"type":"text","color":"#777777","font":"Open Sans","fontSize":13.5,"align":"left","baseline":"middle","clip":true},"encoding":{"text":{"field":"s"}}}
]
}
]
}
